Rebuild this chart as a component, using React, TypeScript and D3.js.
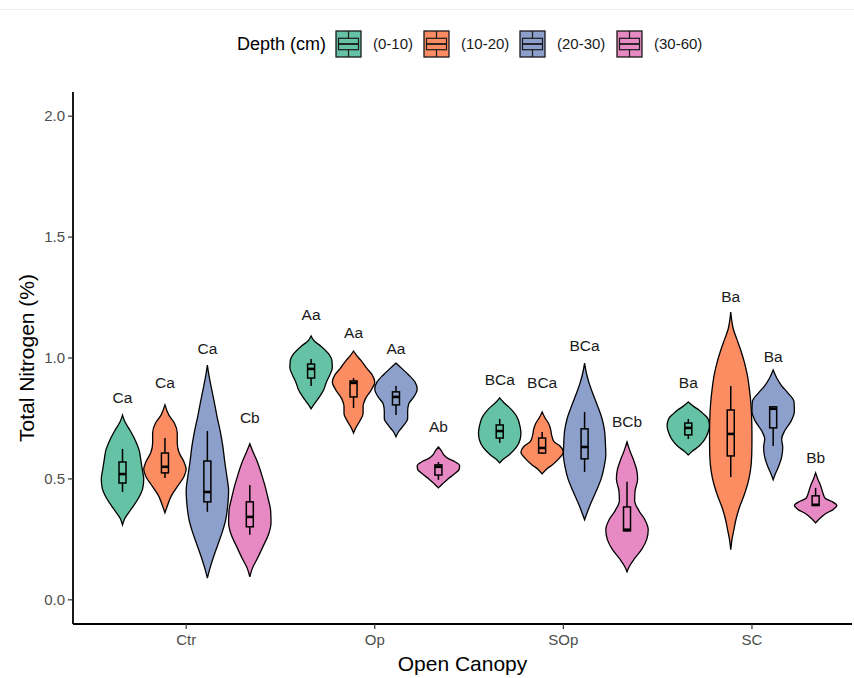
import * as d3 from 'd3';

const categories = ['Ctr', 'Op', 'SOp', 'SC'];
const depths = ['(0-10)', '(10-20)', '(20-30)', '(30-60)'];
const depthColors = ['#66C2A5', '#FC8D62', '#8DA0CB', '#E78AC3'];
const yTicks = [0, 0.5, 1.0, 1.5, 2.0];

// violin outlines: [value, half width relative to the widest point]
const ctrViolins = [
  [[0.31, 0], [0.335, 0.1], [0.38, 0.45], [0.42, 0.75], [0.46, 0.95], [0.5, 1], [0.54, 0.93], [0.58, 0.86], [0.62, 0.78], [0.66, 0.6], [0.7, 0.36], [0.735, 0.12], [0.764, 0]],
  [[0.36, 0], [0.39, 0.12], [0.43, 0.3], [0.47, 0.6], [0.51, 0.9], [0.54, 1], [0.57, 0.9], [0.61, 0.66], [0.65, 0.58], [0.69, 0.58], [0.73, 0.45], [0.765, 0.18], [0.806, 0]],
  [[0.09, 0], [0.13, 0.12], [0.18, 0.3], [0.23, 0.5], [0.28, 0.7], [0.33, 0.86], [0.4, 0.97], [0.45, 1], [0.51, 0.92], [0.57, 0.82], [0.64, 0.72], [0.7, 0.6], [0.76, 0.45], [0.82, 0.32], [0.88, 0.18], [0.93, 0.07], [0.971, 0]],
  [[0.095, 0], [0.13, 0.12], [0.17, 0.35], [0.22, 0.62], [0.27, 0.88], [0.32, 1], [0.37, 0.98], [0.42, 0.86], [0.47, 0.72], [0.52, 0.55], [0.57, 0.36], [0.61, 0.16], [0.645, 0]],
];
const opViolins = [
  [[0.79, 0], [0.81, 0.15], [0.84, 0.4], [0.87, 0.6], [0.9, 0.72], [0.93, 0.88], [0.96, 1], [0.99, 0.98], [1.02, 0.8], [1.05, 0.45], [1.07, 0.15], [1.091, 0]],
  [[0.69, 0], [0.71, 0.1], [0.74, 0.3], [0.77, 0.45], [0.8, 0.45], [0.83, 0.55], [0.87, 0.85], [0.9, 1], [0.93, 0.88], [0.96, 0.6], [0.99, 0.35], [1.01, 0.15], [1.029, 0]],
  [[0.674, 0], [0.695, 0.12], [0.72, 0.35], [0.75, 0.55], [0.78, 0.55], [0.81, 0.6], [0.84, 0.85], [0.87, 1], [0.9, 0.9], [0.93, 0.6], [0.955, 0.3], [0.979, 0]],
  [[0.463, 0], [0.48, 0.2], [0.5, 0.45], [0.52, 0.75], [0.54, 0.98], [0.555, 1], [0.57, 0.8], [0.585, 0.45], [0.6, 0.25], [0.615, 0.15], [0.632, 0]],
];
const sopViolins = [
  [[0.566, 0], [0.58, 0.15], [0.6, 0.45], [0.63, 0.78], [0.66, 0.95], [0.69, 1], [0.72, 0.95], [0.75, 0.85], [0.78, 0.62], [0.8, 0.4], [0.815, 0.2], [0.835, 0]],
  [[0.521, 0], [0.54, 0.2], [0.56, 0.5], [0.585, 0.8], [0.61, 1], [0.635, 0.85], [0.655, 0.55], [0.68, 0.45], [0.705, 0.4], [0.73, 0.3], [0.755, 0.12], [0.777, 0]],
  [[0.331, 0], [0.36, 0.12], [0.4, 0.3], [0.45, 0.55], [0.5, 0.78], [0.55, 0.92], [0.6, 1], [0.65, 0.98], [0.7, 0.94], [0.75, 0.82], [0.8, 0.62], [0.85, 0.4], [0.9, 0.2], [0.94, 0.08], [0.979, 0]],
  [[0.116, 0], [0.14, 0.12], [0.17, 0.35], [0.21, 0.7], [0.25, 0.93], [0.29, 1], [0.33, 0.85], [0.37, 0.55], [0.41, 0.36], [0.45, 0.38], [0.5, 0.5], [0.54, 0.45], [0.58, 0.3], [0.62, 0.12], [0.653, 0]],
];
const scViolins = [
  [[0.599, 0], [0.615, 0.2], [0.635, 0.5], [0.66, 0.75], [0.69, 0.92], [0.72, 1], [0.75, 0.92], [0.77, 0.7], [0.785, 0.5], [0.8, 0.25], [0.818, 0]],
  [[0.207, 0], [0.25, 0.06], [0.29, 0.15], [0.33, 0.24], [0.38, 0.4], [0.43, 0.62], [0.48, 0.8], [0.53, 0.92], [0.6, 0.99], [0.67, 1], [0.74, 0.99], [0.81, 0.95], [0.87, 0.88], [0.93, 0.78], [0.98, 0.65], [1.03, 0.48], [1.08, 0.28], [1.12, 0.12], [1.16, 0.04], [1.19, 0]],
  [[0.496, 0], [0.52, 0.1], [0.55, 0.25], [0.59, 0.4], [0.63, 0.45], [0.665, 0.4], [0.7, 0.55], [0.74, 0.85], [0.78, 1], [0.82, 0.98], [0.855, 0.7], [0.885, 0.4], [0.915, 0.18], [0.95, 0]],
  [[0.318, 0], [0.335, 0.18], [0.355, 0.45], [0.375, 0.85], [0.39, 1], [0.405, 0.8], [0.42, 0.45], [0.44, 0.35], [0.46, 0.28], [0.48, 0.2], [0.5, 0.1], [0.525, 0]],
];

// boxplots: [lower whisker, q1, median, q3, upper whisker]
const ctrBoxes = [[0.446, 0.483, 0.52, 0.57, 0.624], [0.504, 0.525, 0.55, 0.607, 0.669], [0.364, 0.405, 0.446, 0.574, 0.698], [0.269, 0.302, 0.343, 0.405, 0.475]];
const opBoxes = [[0.884, 0.917, 0.955, 0.975, 0.996], [0.793, 0.839, 0.897, 0.905, 0.917], [0.764, 0.806, 0.839, 0.86, 0.884], [0.496, 0.516, 0.55, 0.558, 0.57]];
const sopBoxes = [[0.649, 0.669, 0.698, 0.723, 0.748], [0.603, 0.607, 0.628, 0.669, 0.694], [0.529, 0.583, 0.632, 0.707, 0.777], [0.283, 0.285, 0.29, 0.384, 0.488]];
const scBoxes = [[0.665, 0.682, 0.711, 0.731, 0.748], [0.508, 0.595, 0.686, 0.785, 0.884], [0.636, 0.711, 0.79, 0.798, 0.802], [0.39, 0.39, 0.393, 0.43, 0.463]];

// significance letters and the height they sit at
const ctrLetters = ['Ca', 'Ca', 'Ca', 'Cb'];
const opLetters = ['Aa', 'Aa', 'Aa', 'Ab'];
const sopLetters = ['BCa', 'BCa', 'BCa', 'BCb'];
const scLetters = ['Ba', 'Ba', 'Ba', 'Bb'];
const ctrLetterY = [0.835, 0.897, 1.041, 0.752];
const opLetterY = [1.178, 1.107, 1.037, 0.715];
const sopLetterY = [0.909, 0.897, 1.05, 0.736];
const scLetterY = [0.897, 1.252, 1.004, 0.587];

const violins = [ctrViolins, opViolins, sopViolins, scViolins];
const boxes = [ctrBoxes, opBoxes, sopBoxes, scBoxes];
const letters = [ctrLetters, opLetters, sopLetters, scLetters];
const letterY = [ctrLetterY, opLetterY, sopLetterY, scLetterY];

const W = 854;
const H = 678;
const FONT = '"Liberation Sans", Arial, Helvetica, sans-serif';

export default function App() {
  const left = 73, right = 852, top = 92, bottom = 624;
  const unit = 188.6; // one discrete step on the x axis

  const x = d3.scalePoint().domain(categories).range([left + 0.6 * unit, left + 3.6 * unit]);
  const xInner = d3.scaleBand().domain(depths).range([-0.45 * unit, 0.45 * unit]);
  const y = d3.scaleLinear().domain([-0.1, 2.1]).range([bottom, top]);

  const bw = xInner.bandwidth();
  const halfW = bw / 2;
  const boxW = 7;
  const center = (ci, di) => x(categories[ci]) + xInner(depths[di]) + bw / 2;

  const violinPath = (cx, prof) =>
    d3.area()
      .y(d => y(d[0]))
      .x0(d => cx - halfW * d[1])
      .x1(d => cx + halfW * d[1])
      .curve(d3.curveMonotoneY)(prof);

  // legend layout
  const legendX = [336, 424, 520, 617];
  const keyW = 25, keyH = 26, keyY = 31, legendMid = 44;

  return (
    <svg width={W} height={H} style={{ position: 'absolute', left: 0, top: 0, background: '#fff' }} fontFamily={FONT}>
      <rect width={W} height={H} fill="#fff" />
      <line x1={0} x2={W} y1={9.5} y2={9.5} stroke="#f0f0f0" />

      {/* legend */}
      <text x={237} y={legendMid} dy="0.35em" fontSize={18} fill="#000">Depth (cm)</text>
      {depths.map((d, i) => {
        const kx = legendX[i];
        const cx = kx + keyW / 2;
        return (
          <g key={d}>
            <rect x={kx} y={keyY} width={keyW} height={keyH} fill={depthColors[i]} stroke="#1a1a1a" strokeWidth={1.3} />
            <line x1={cx} x2={cx} y1={keyY} y2={keyY + keyH * 0.28} stroke="#1a1a1a" strokeWidth={1.2} />
            <line x1={cx} x2={cx} y1={keyY + keyH * 0.72} y2={keyY + keyH} stroke="#1a1a1a" strokeWidth={1.2} />
            <rect x={kx + keyW * 0.1} y={keyY + keyH * 0.28} width={keyW * 0.8} height={keyH * 0.44} fill="none" stroke="#1a1a1a" strokeWidth={1.2} />
            <line x1={kx + keyW * 0.1} x2={kx + keyW * 0.9} y1={keyY + keyH / 2} y2={keyY + keyH / 2} stroke="#1a1a1a" strokeWidth={1.8} />
            <text x={kx + keyW + 12} y={legendMid} dy="0.35em" fontSize={15} fill="#1a1a1a">{d}</text>
          </g>
        );
      })}

      {/* violins */}
      {violins.map((grp, ci) =>
        grp.map((prof, di) => (
          <path key={`v${ci}${di}`} d={violinPath(center(ci, di), prof)} fill={depthColors[di]} stroke="#000" strokeWidth={1.3} />
        ))
      )}

      {/* boxplots */}
      {boxes.map((grp, ci) =>
        grp.map((b, di) => {
          const cx = center(ci, di);
          return (
            <g key={`b${ci}${di}`}>
              <line x1={cx} x2={cx} y1={y(b[0])} y2={y(b[1])} stroke="#000" strokeWidth={1.5} />
              <line x1={cx} x2={cx} y1={y(b[3])} y2={y(b[4])} stroke="#000" strokeWidth={1.5} />
              <rect x={cx - boxW / 2} y={y(b[3])} width={boxW} height={Math.max(0.5, y(b[1]) - y(b[3]))} fill={depthColors[di]} stroke="#000" strokeWidth={1.5} />
              <line x1={cx - boxW / 2} x2={cx + boxW / 2} y1={y(b[2])} y2={y(b[2])} stroke="#000" strokeWidth={2.6} />
            </g>
          );
        })
      )}

      {/* letters */}
      {letters.map((grp, ci) =>
        grp.map((l, di) => (
          <text key={`l${ci}${di}`} x={center(ci, di)} y={y(letterY[ci][di])} dy="0.35em" textAnchor="middle" fontSize={15.5} fill="#1a1a1a">{l}</text>
        ))
      )}

      {/* y axis */}
      <line x1={left} x2={left} y1={top} y2={bottom} stroke="#000" strokeWidth={1.8} />
      {yTicks.map(t => (
        <g key={t}>
          <line x1={left - 5} x2={left} y1={y(t)} y2={y(t)} stroke="#333" strokeWidth={1.2} />
          <text x={left - 8} y={y(t)} dy="0.35em" textAnchor="end" fontSize={15} fill="#4d4d4d">{d3.format('.1f')(t)}</text>
        </g>
      ))}
      <text transform={`translate(27,${(top + bottom) / 2}) rotate(-90)`} textAnchor="middle" dy="0.35em" fontSize={21} fill="#000">Total Nitrogen (%)</text>

      {/* x axis */}
      <line x1={left} x2={right} y1={bottom} y2={bottom} stroke="#000" strokeWidth={1.8} />
      {categories.map(c => (
        <g key={c}>
          <line x1={x(c)} x2={x(c)} y1={bottom} y2={bottom + 5} stroke="#333" strokeWidth={1.2} />
          <text x={x(c)} y={bottom + 16} dy="0.35em" textAnchor="middle" fontSize={15} fill="#4d4d4d">{c}</text>
        </g>
      ))}
      <text x={(left + right) / 2} y={664} dy="0.35em" textAnchor="middle" fontSize={21} fill="#000">Open Canopy</text>
    </svg>
  );
}
